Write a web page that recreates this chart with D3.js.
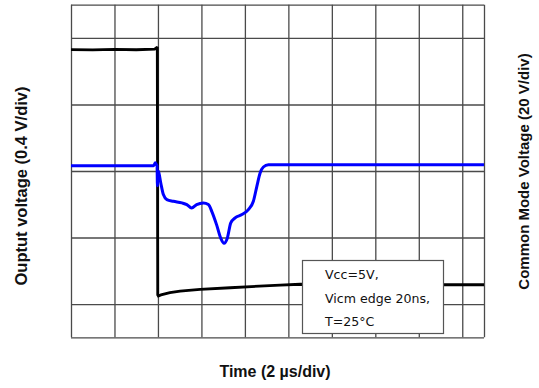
<!DOCTYPE html>
<html>
<head>
<meta charset="utf-8">
<script src="https://cdn.jsdelivr.net/npm/d3@7"></script>
<style>
  body { margin: 0; background: #fff; }
  .grid line { stroke: #4a4a4a; stroke-width: 1.3; }
  .grid path { display: none; }
  .trace { fill: none; }
  .label { font-family: "Liberation Sans", Arial, sans-serif; font-weight: bold; fill: #111; }
  .note { font-family: "DejaVu Sans", Verdana, sans-serif; font-size: 12.6px; fill: #111; }
</style>
</head>
<body>
<svg id="chart" width="539" height="388"></svg>
<script>
// time in µs (2 µs/div), output voltage in V (0.4 V/div), common mode in V (20 V/div)
const gridTimes = [0, 2, 4, 6, 8, 10, 12, 14, 16, 18, 19];
const gridVolts = [-1.0, -0.8, -0.4, 0, 0.4, 0.8, 1.0];

const outTime = [0, 1.0, 2.0, 3.0, 3.85, 3.94, 3.97, 3.99, 4.02, 4.14, 4.55, 5.02, 5.94, 7.32, 9.62, 10.54, 13, 16, 19];
const outVolt = [0.730, 0.728, 0.731, 0.729, 0.733, 0.742, 0.740, -0.745, -0.752, -0.745, -0.732, -0.722, -0.712, -0.702, -0.686, -0.681, -0.683, -0.684, -0.684];

const cmTime = [0, 1.5, 3.0, 3.80, 3.88, 3.93, 3.96, 3.975, 3.99, 4.02, 4.13, 4.25, 4.41, 4.71, 5.10, 5.33, 5.55,
                5.78, 6.09, 6.32, 6.48, 6.70, 6.89, 7.04, 7.19, 7.35, 7.55, 7.86, 8.16, 8.39, 8.55, 8.70, 8.85,
                9.08, 12, 16, 19];
const cmVolt = [1.59, 1.6, 1.59, 1.59, 2.5, 1.9, 1.6, -4.4, 0.0, -0.1, -3.6, -7.1, -8.6, -9.1, -9.6, -10.1, -11.1,
                -10.1, -9.6, -10.1, -12.2, -16.2, -20.2, -21.7, -20.2, -15.6, -14.1, -13.1, -11.6, -9.1, -4.6, -0.6, 1.2,
                1.89, 1.9, 1.9, 1.89];

const noteLines = ["Vcc=5V,", "Vicm edge 20ns,", "T=25°C"];

const svg = d3.select("#chart");

const plotLeft = 71, plotRight = 484, plotTop = 4.7, plotBottom = 337.3;

// scales
const x = d3.scaleLinear().domain([0, 19]).range([plotLeft, plotRight]);
const yOut = d3.scaleLinear().domain([-1, 1]).range([plotBottom, plotTop]);
const yCm = d3.scaleLinear().domain([-50, 50]).range([plotBottom, plotTop]);

// grid, drawn with axes without labels
svg.append("g")
    .attr("class", "grid")
    .attr("transform", "translate(0," + plotBottom + ")")
    .call(d3.axisBottom(x).tickValues(gridTimes).tickFormat("").tickSize(-(plotBottom - plotTop)));

svg.append("g")
    .attr("class", "grid")
    .attr("transform", "translate(" + plotLeft + ",0)")
    .call(d3.axisLeft(yOut).tickValues(gridVolts).tickFormat("").tickSize(-(plotRight - plotLeft)));

// traces
const outLine = d3.line()
    .x((d, i) => x(outTime[i]))
    .y((d) => yOut(d));

const cmLine = d3.line()
    .curve(d3.curveMonotoneX)
    .x((d, i) => x(cmTime[i]))
    .y((d) => yCm(d));

svg.append("path")
    .attr("class", "trace")
    .attr("d", outLine(outVolt))
    .style("stroke", "#000")
    .style("stroke-width", 2.8);

svg.append("path")
    .attr("class", "trace")
    .attr("d", cmLine(cmVolt))
    .style("stroke", "#0000ff")
    .style("stroke-width", 3);

// note box
const note = svg.append("g").attr("transform", "translate(302.5,260.5)");
note.append("rect")
    .attr("width", 141)
    .attr("height", 73)
    .style("fill", "#fff")
    .style("stroke", "#555")
    .style("stroke-width", 1.2);
note.selectAll("text")
    .data(noteLines)
  .enter().append("text")
    .attr("class", "note")
    .attr("x", 22.5)
    .attr("y", (d, i) => 18.5 + i * 23.5)
    .text((d) => d);

// axis titles
svg.append("text")
    .attr("class", "label")
    .attr("transform", "translate(27,186) rotate(-90)")
    .style("text-anchor", "middle")
    .style("font-size", "16.5px")
    .text("Ouptut voltage (0.4 V/div)");

svg.append("text")
    .attr("class", "label")
    .attr("transform", "translate(528.5,171.5) rotate(-90)")
    .style("text-anchor", "middle")
    .style("font-size", "15px")
    .text("Common Mode Voltage (20 V/div)");

svg.append("text")
    .attr("class", "label")
    .attr("x", 275)
    .attr("y", 377)
    .style("text-anchor", "middle")
    .style("font-size", "16px")
    .text("Time (2 µs/div)");
</script>
</body>
</html>
